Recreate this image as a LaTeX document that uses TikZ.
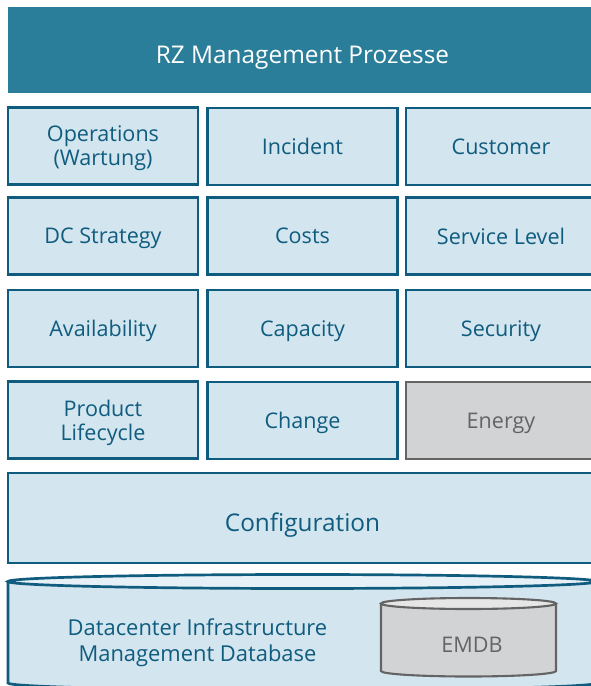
\documentclass[tikz,border=0pt]{standalone}
\usepackage{fontspec}
\setmainfont{Open Sans}
\usetikzlibrary{positioning}
\definecolor{rzteal}{HTML}{2A7E9A}
\definecolor{rzline}{HTML}{0F5C7E}
\definecolor{rzfill}{HTML}{D3E5EF}
\definecolor{rztop}{HTML}{E6F0F7}
\definecolor{rzgray}{HTML}{D2D3D5}
\definecolor{rzgraytop}{HTML}{E6E6E6}
\definecolor{rzgrayline}{HTML}{646464}
\newcommand{\rzfont}{\fontsize{18.4}{20.5}\selectfont}
\newcommand{\rzbigfont}{\fontsize{20.8}{24}\selectfont}

\begin{document}
\begin{tikzpicture}[x=0.03cm, y=-0.03cm,
    proc/.style={draw=rzline, line width=2.3pt, fill=rzfill, text=rzline,
      minimum width=5.7cm, minimum height=2.31cm, inner sep=0pt,
      align=center, font=\rzfont, text depth=0pt},
    greyproc/.style={proc, draw=rzgrayline, fill=rzgray, text=rzgrayline}]
    \useasboundingbox (0,0) rectangle (591,686);

    \node[fill=rzteal, text=white, minimum width=17.67cm, minimum height=2.58cm,
      inner sep=0pt, text height=22.5pt, text depth=0pt, font=\rzbigfont]
      (rz) at (302.5,50) {RZ Management Prozesse};

    % process grid
    \node[proc] (ops) at (103,146) {Operations\\(Wartung)};
    \node[proc] (incident) at (302.5,146.5) {Incident};
    \node[proc] (customer) at (501,146.5) {Customer};

    \node[proc] (strategy) at (103,236) {DC Strategy};
    \node[proc] (costs) at (302.5,236) {Costs};
    \node[proc] (sla) at (501,236) {Service Level};

    \node[proc] (avail) at (103,328.5) {Availability};
    \node[proc] (capacity) at (302.5,328.5) {Capacity};
    \node[proc] (security) at (501,328.5) {Security};

    \node[proc] (lifecycle) at (103,420) {Product\\Lifecycle};
    \node[proc] (change) at (302.5,420.5) {Change};
    \node[greyproc] (energy) at (501,420.5) {Energy};

    \node[proc, minimum width=17.67cm, minimum height=2.7cm, font=\rzbigfont,
      text height=23.8pt] (config) at (302.5,518) {Configuration};

    % DCIM database
    \draw[draw=rzline, line width=2.3pt, fill=rzfill] (8,581.5) -- (8,683)
      arc[start angle=180, end angle=360, x radius=8.835cm, y radius=0.21cm] -- (597,581.5);
    \draw[draw=rzline, line width=2.3pt, fill=rztop] (302.5,581.5) ellipse (8.835cm and 0.21cm);
    \node[text=rzline, align=center, font=\fontsize{18.7}{22}\selectfont, text depth=0pt]
      (dcim) at (197.5,640) {Datacenter Infrastructure\\Management Database};

    % EMDB
    \draw[draw=rzgrayline, line width=1.8pt, fill=rzgray] (381,603.5) -- (381,671)
      arc[start angle=180, end angle=360, x radius=2.625cm, y radius=0.165cm] -- (556,603.5);
    \draw[draw=rzgrayline, line width=1.8pt, fill=rzgraytop] (468.5,603.5) ellipse (2.625cm and 0.165cm);
    \node[text=rzgrayline, font=\rzfont, text depth=0pt] (emdb) at (472,645) {EMDB};
\end{tikzpicture}
\end{document}
